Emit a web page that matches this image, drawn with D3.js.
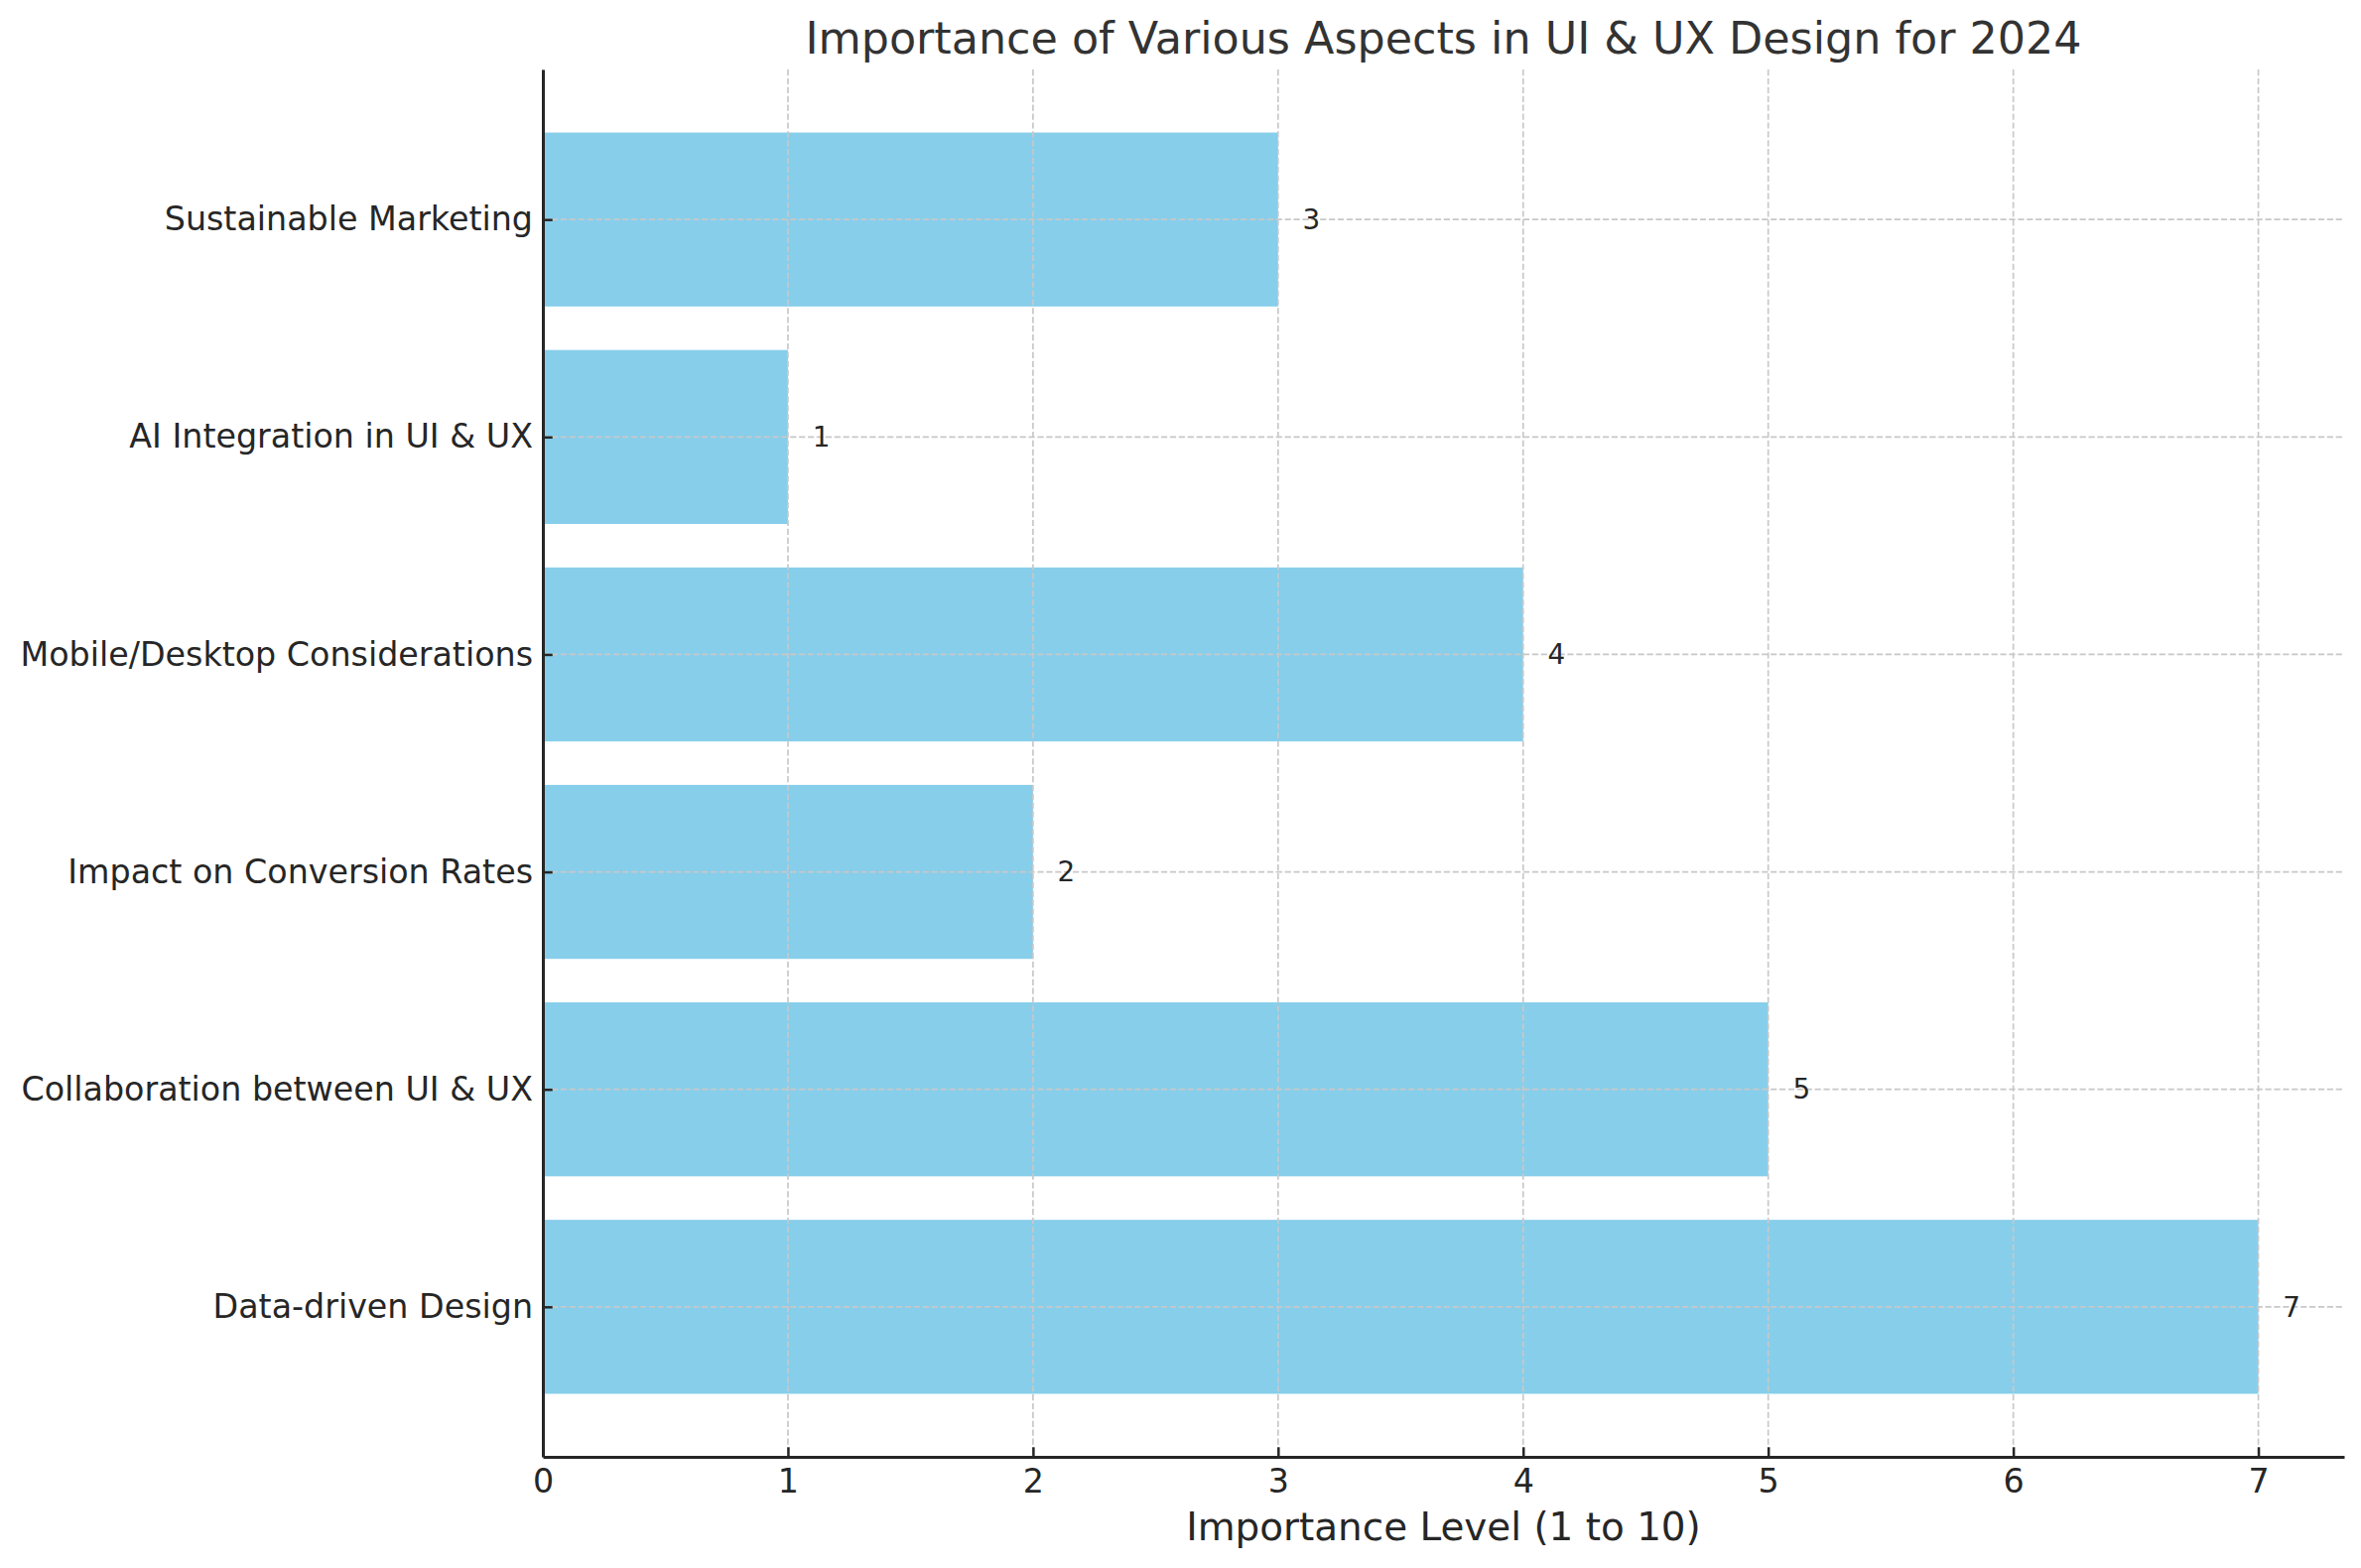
<!DOCTYPE html>
<html>
<head>
<meta charset="utf-8">
<script src="https://cdn.jsdelivr.net/npm/d3@7"></script>
<style>
  body { margin: 0; background: #fff; }
  text { font-family: "DejaVu Sans", sans-serif; }
</style>
</head>
<body>
<div id="chart"></div>
<script>

// chart data, bottom bar first (same order as the source plot)
const aspects = [
  "Data-driven Design",
  "Collaboration between UI & UX",
  "Impact on Conversion Rates",
  "Mobile/Desktop Considerations",
  "AI Integration in UI & UX",
  "Sustainable Marketing"
];
const importance = [7, 5, 2, 4, 1, 3];
const xTicks = [0, 1, 2, 3, 4, 5, 6, 7];

const width = 2379;
const height = 1580;
const margin = {top: 70, right: 17, bottom: 112, left: 547};

const svg = d3
  .select("#chart")
  .append("svg")
  .attr("width", width)
  .attr("height", height)
  .attr("viewBox", [0, 0, width, height]);

const data = aspects.map((a, i) => ({name: a, value: importance[i], idx: i}));

// x goes 0 .. max + 5% like matplotlib's auto margin
let maxX = d3.max(importance);
let xScale = d3.scaleLinear()
  .domain([0, maxX * 1.05])
  .range([margin.left, width - margin.right]);

// y is the bar index, bars are 0.8 tall, plus 5% padding on each side
let barH = 0.8;
let lo = -barH / 2, hi = aspects.length - 1 + barH / 2;
let pad = (hi - lo) * 0.05;
let yScale = d3.scaleLinear()
  .domain([lo - pad, hi + pad])
  .range([height - margin.bottom, margin.top]);

// bars
svg.selectAll("rect.bar")
  .data(data)
  .enter()
  .append("rect")
    .attr("class", "bar")
    .attr("x", xScale(0))
    .attr("y", d => yScale(d.idx + barH / 2))
    .attr("width", d => xScale(d.value) - xScale(0))
    .attr("height", d => yScale(d.idx - barH / 2) - yScale(d.idx + barH / 2))
    .attr("fill", "#87CEEB");

// dashed grid sits above the bars
const grid = svg.append("g")
  .attr("stroke", "#c8c8c8")
  .attr("stroke-width", 1.67)
  .attr("stroke-dasharray", "6.2,2.7");

grid.selectAll("line.vx")
  .data(xTicks)
  .enter()
  .append("line")
    .attr("x1", d => xScale(d))
    .attr("x2", d => xScale(d))
    .attr("y1", margin.top)
    .attr("y2", height - margin.bottom);

grid.selectAll("line.hy")
  .data(data)
  .enter()
  .append("line")
    .attr("x1", margin.left)
    .attr("x2", width - margin.right)
    .attr("y1", d => yScale(d.idx))
    .attr("y2", d => yScale(d.idx));

// value labels just right of each bar
svg.selectAll("text.val")
  .data(data)
  .enter()
  .append("text")
    .attr("class", "val")
    .attr("x", d => xScale(d.value + 0.1))
    .attr("y", d => yScale(d.idx))
    .attr("dy", "0.35em")
    .attr("font-size", "27.8px")
    .attr("fill", "#262626")
    .text(d => d.value);

// axes, ticks point inward
const xAxis = svg.append("g")
  .attr("transform", `translate(0,${height - margin.bottom})`)
  .call(d3.axisBottom(xScale)
    .tickValues(xTicks)
    .tickSizeInner(-9.7)
    .tickSizeOuter(0)
    .tickPadding(12));

const yAxis = svg.append("g")
  .attr("transform", `translate(${margin.left},0)`)
  .call(d3.axisLeft(yScale)
    .tickValues(data.map(d => d.idx))
    .tickFormat(i => aspects[i])
    .tickSizeInner(-9.7)
    .tickSizeOuter(0)
    .tickPadding(10));

[xAxis, yAxis].forEach(ax => {
  ax.attr("font-family", "DejaVu Sans")
    .attr("font-size", "33.3px");
  ax.select(".domain").attr("stroke", "#262626").attr("stroke-width", 3);
  ax.selectAll(".tick line").attr("stroke", "#262626").attr("stroke-width", 2.5);
  ax.selectAll(".tick text").attr("fill", "#262626");
});

// title and axis label
svg.append("text")
  .attr("x", (margin.left + width - margin.right) / 2)
  .attr("y", 54)
  .attr("text-anchor", "middle")
  .attr("font-size", "44.4px")
  .attr("fill", "#333333")
  .text("Importance of Various Aspects in UI & UX Design for 2024");

svg.append("text")
  .attr("x", (margin.left + width - margin.right) / 2)
  .attr("y", 1552)
  .attr("text-anchor", "middle")
  .attr("font-size", "38.9px")
  .attr("fill", "#262626")
  .text("Importance Level (1 to 10)");

</script>
</body>
</html>
